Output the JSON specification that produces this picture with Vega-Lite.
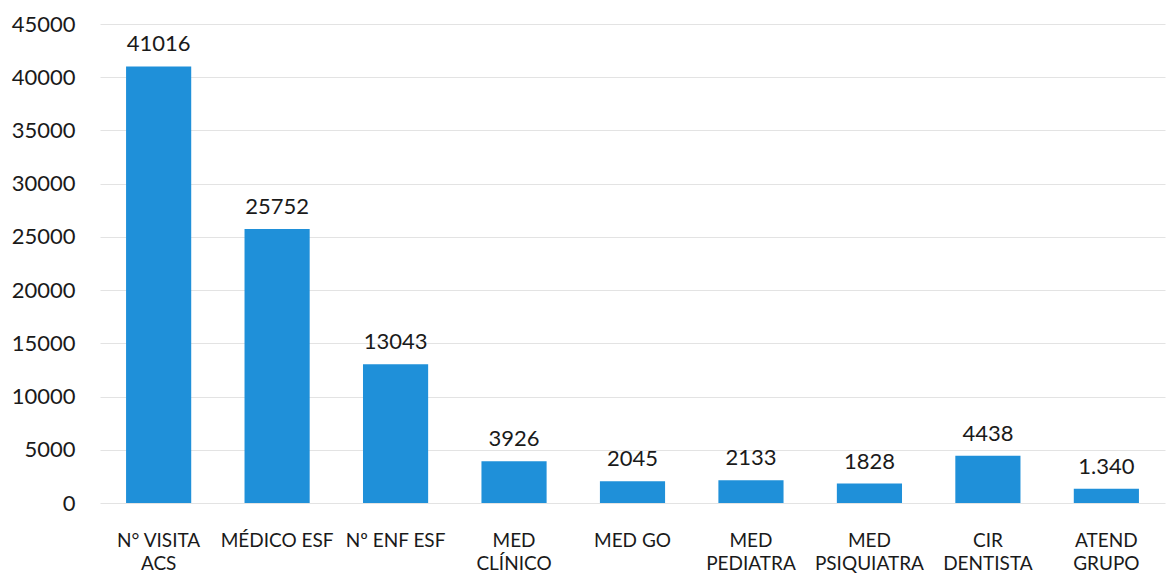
{
  "$schema": "https://vega.github.io/schema/vega-lite/v6.json",
  "autosize": "none",
  "width": 1065,
  "height": 479,
  "padding": {"left": 100, "top": 24, "right": 3, "bottom": 84},
  "background": "white",
  "config": {"view": {"stroke": null}, "font": "Lato"},
  "data": {
    "values": [
      {"categoria": "N° VISITA|ACS", "valor": 41016, "rotulo": "41016"},
      {"categoria": "MÉDICO ESF", "valor": 25752, "rotulo": "25752"},
      {"categoria": "Nº ENF ESF", "valor": 13043, "rotulo": "13043"},
      {"categoria": "MED|CLÍNICO", "valor": 3926, "rotulo": "3926"},
      {"categoria": "MED GO", "valor": 2045, "rotulo": "2045"},
      {"categoria": "MED|PEDIATRA", "valor": 2133, "rotulo": "2133"},
      {"categoria": "MED|PSIQUIATRA", "valor": 1828, "rotulo": "1828"},
      {"categoria": "CIR|DENTISTA", "valor": 4438, "rotulo": "4438"},
      {"categoria": "ATEND|GRUPO", "valor": 1340, "rotulo": "1.340"}
    ]
  },
  "encoding": {
    "x": {
      "field": "categoria", "type": "nominal", "sort": null,
      "scale": {"paddingInner": 0.45, "paddingOuter": 0.22},
      "axis": {
        "title": null, "labelAngle": 0, "ticks": false, "domain": false,
        "labelExpr": "split(datum.label, '|')",
        "labelFontSize": 19, "labelColor": "#1a1a1a", "labelPadding": 37,
        "labelLineHeight": 23, "labelBaseline": "middle"
      }
    },
    "y": {
      "field": "valor", "type": "quantitative",
      "scale": {"domain": [0, 45000], "nice": false},
      "axis": {
        "title": null, "values": [0,5000,10000,15000,20000,25000,30000,35000,40000,45000],
        "format": "d", "ticks": false, "domain": false,
        "labelFontSize": 22, "labelColor": "#1a1a1a", "labelPadding": 25,
        "gridColor": "#e3e3e3", "gridWidth": 1
      }
    }
  },
  "layer": [
    {"mark": {"type": "bar", "color": "#1f90d9"}},
    {
      "mark": {"type": "text", "baseline": "bottom", "dy": -10, "fontSize": 22, "color": "#1a1a1a"},
      "encoding": {"text": {"field": "rotulo"}}
    }
  ]
}
